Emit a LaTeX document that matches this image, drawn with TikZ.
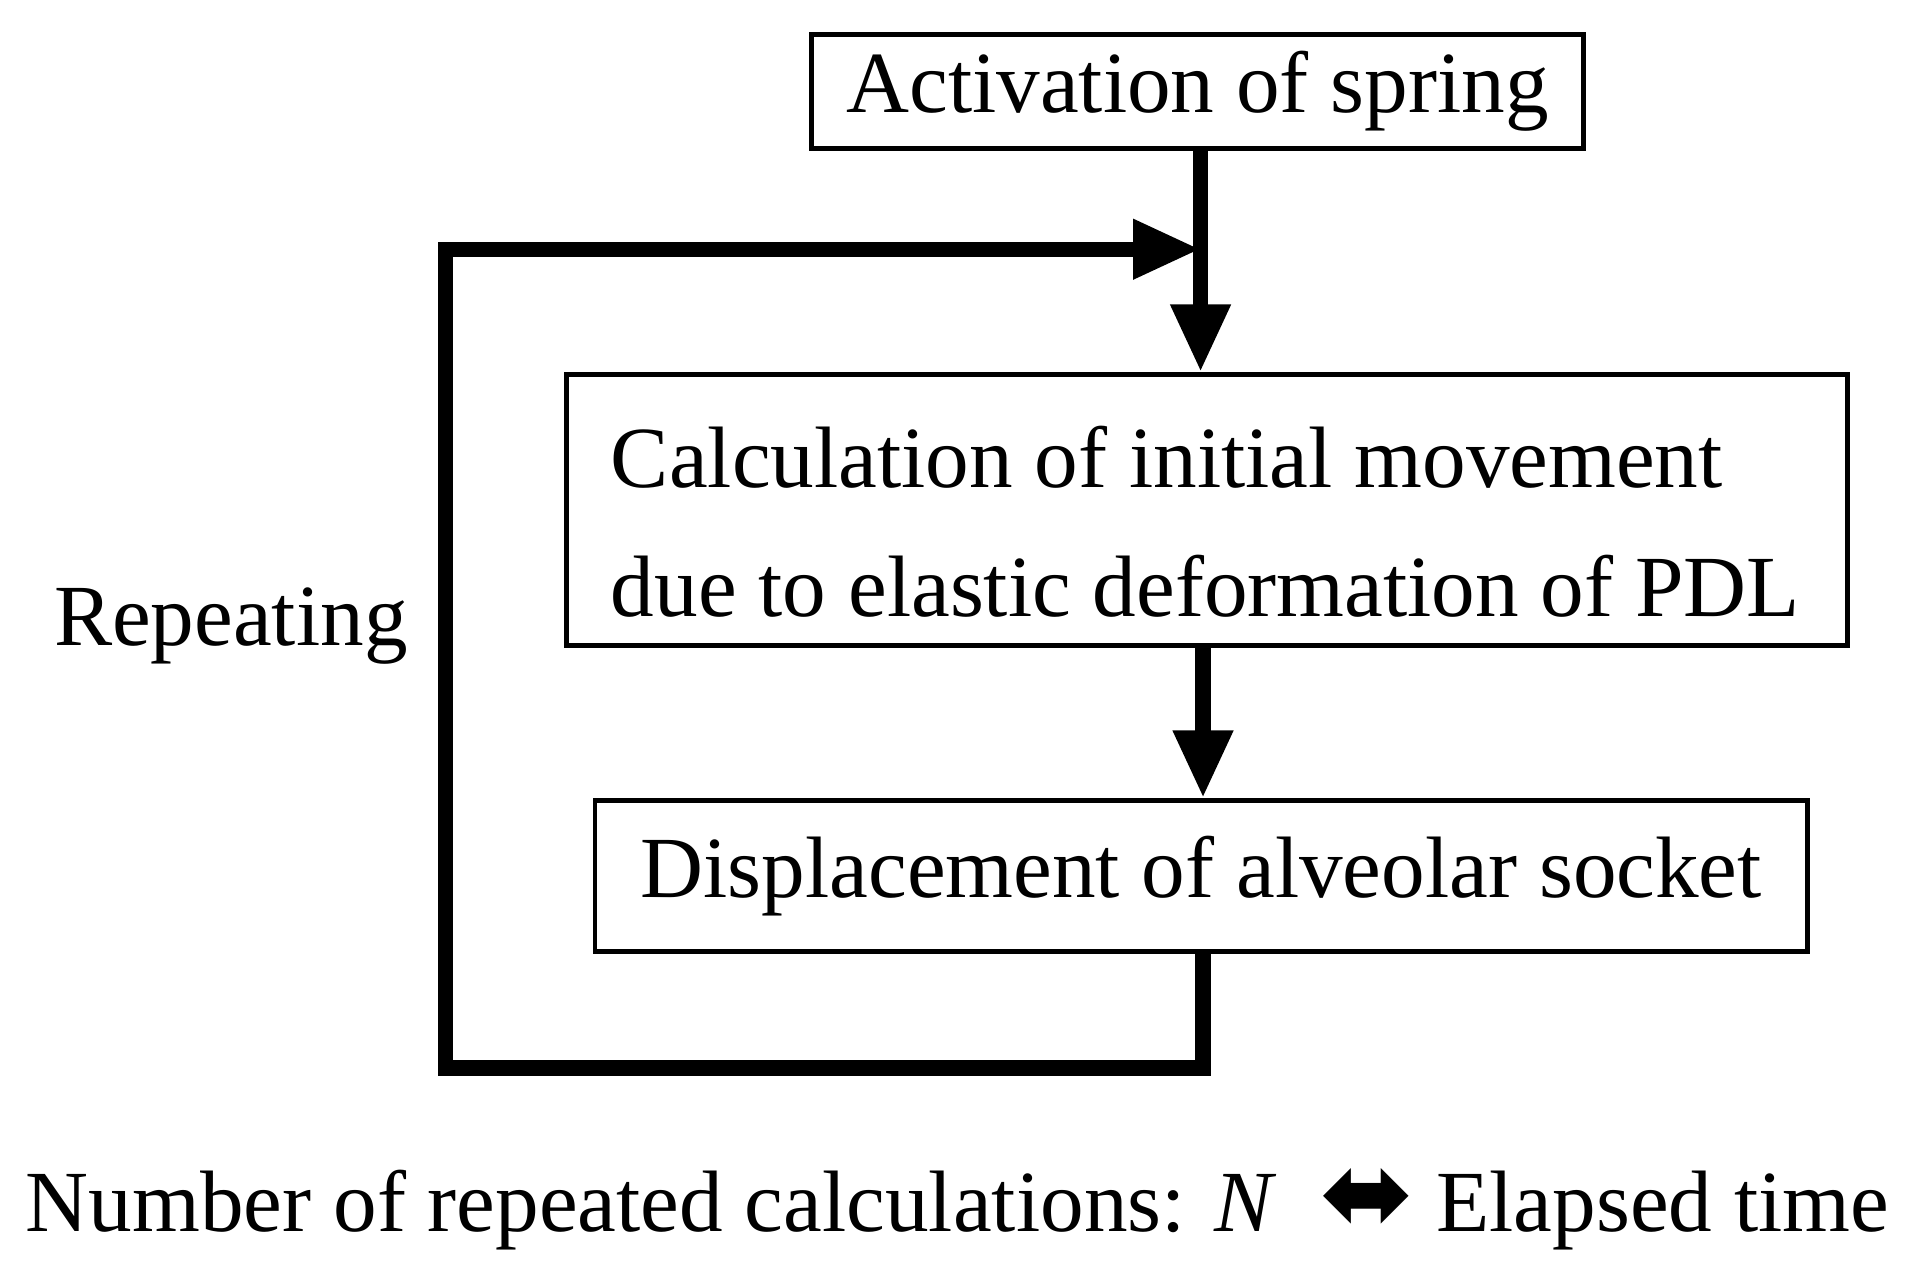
\documentclass[tikz,border=0pt]{standalone}
\usepackage{fontspec}
\setmainfont{Liberation Serif}
\newfontfamily\symfont{DejaVu Sans}
\usetikzlibrary{arrows.meta}
\begin{document}
\begin{tikzpicture}[x=0.01cm,y=-0.01cm,
  box/.style={draw,line width=1.1pt,inner sep=0pt,font=\fontsize{20.2}{24}\selectfont},
  conn/.style={line width=3.5pt,-{Triangle[length=0.55cm,width=0.46cm]}},
  txt/.style={font=\fontsize{20.2}{24}\selectfont,inner sep=0pt}]
\useasboundingbox (0,0) rectangle (1560,1035);
\node[box,minimum width=6.29cm,minimum height=0.93cm] (b1) at (975.5,74.5) {Activation of spring};
\node[box,minimum width=10.43cm,minimum height=2.21cm] (b2) at (983.5,415.5) {};
\node[txt,anchor=west,align=left] (b2t) at (497,425)
  {Calculation of initial movement\\[6pt]due to elastic deformation of PDL};
\node[box,minimum width=9.87cm,minimum height=1.23cm] (b3) at (978.5,713.5) {Displacement of alveolar socket};
\node[txt] (rep) at (188,510) {Repeating};
\node[txt] (bot) at (780,985) {Number of repeated calculations: \textit{N}\ \ {\symfont\fontsize{26}{26}\selectfont ⬌} Elapsed time};
\coordinate (j) at (978,203);
\coordinate (c1) at (980,870);
\coordinate (c2) at (363,870);
\coordinate (c3) at (363,203);
\draw[conn] (b1.south -| j) -- (b2.north -| j);
\draw[conn] (b2.south -| 980,0) -- (b3.north -| 980,0);
\draw[conn,line join=miter] (b3.south -| c1) -- (c1) -- (c2) -- (c3) -- (j);
\end{tikzpicture}
\end{document}
